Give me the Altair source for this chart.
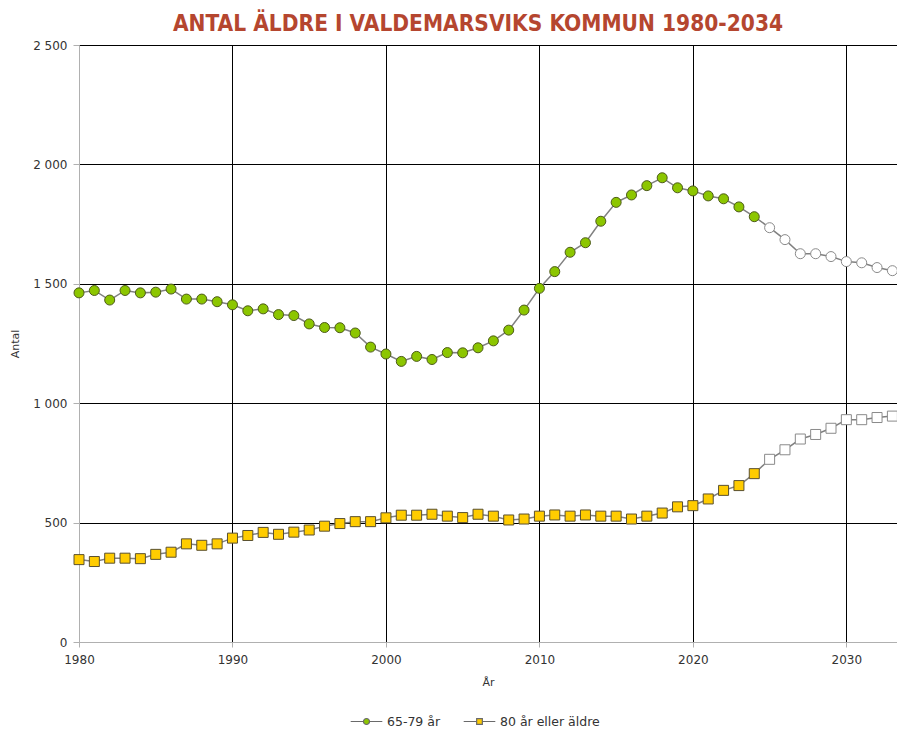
import altair as alt
import pandas as pd

years = list(range(1980, 2034))
age_65_79 = [1462, 1472, 1432, 1472, 1462, 1465, 1478, 1436, 1436, 1425,
             1412, 1387, 1395, 1371, 1367, 1332, 1317, 1316, 1294, 1235,
             1206, 1175, 1196, 1183, 1212, 1211, 1232, 1261, 1306, 1390,
             1481, 1551, 1632, 1672, 1762, 1841, 1872, 1911, 1944, 1902,
             1889, 1868, 1856, 1822, 1781, 1735, 1685, 1626, 1626, 1614,
             1593, 1588, 1568, 1555]
age_80_plus = [345, 337, 351, 351, 349, 367, 376, 411, 405, 411,
               435, 446, 459, 451, 460, 469, 485, 496, 504, 504,
               520, 531, 531, 535, 527, 521, 535, 527, 511, 515,
               527, 532, 527, 532, 527, 527, 515, 527, 540, 566,
               571, 599, 635, 655, 705, 765, 805, 850, 869, 895,
               931, 931, 940, 946]
series_names = ["65-79 år", "80 år eller äldre"]
x_ticks = [1980, 1990, 2000, 2010, 2020, 2030]
y_ticks = [0, 500, 1000, 1500, 2000, 2500]
first_projected_year = 2025

rows = []
for name, vals in zip(series_names, [age_65_79, age_80_plus]):
    for yr, v in zip(years, vals):
        rows.append({"År": yr, "Antal": v, "serie": name})
df = pd.DataFrame(rows)

GREEN = "#8CC600"
YELLOW = "#FFCC00"
LINE = "#808080"
LABEL_FONT = "DejaVu Sans"

x_enc = alt.X(
    "År:Q",
    scale=alt.Scale(domain=[1980, 2033.3], nice=False, zero=False),
    axis=alt.Axis(
        values=x_ticks, format="d", title="År",
        grid=True, labelFlush=False,
        gridColor={"condition": {"test": "datum.value === 1980", "value": "#b0b0b0"}, "value": "black"},
        gridWidth=1,
        domainColor="#b0b0b0", tickColor="#b0b0b0", tickSize=5,
        labelFont=LABEL_FONT, labelFontSize=12, labelColor="#333333", labelPadding=7,
        titleFont=LABEL_FONT, titleFontSize=11, titleFontWeight="normal", titleColor="#333333",
        titlePadding=11,
    ),
)
y_enc = alt.Y(
    "Antal:Q",
    scale=alt.Scale(domain=[0, 2500], nice=False),
    axis=alt.Axis(
        values=y_ticks, title="Antal", labelFlush=False,
        labelExpr="replace(format(datum.value, ','), ',', ' ')",
        grid=True,
        gridColor={"condition": {"test": "datum.value === 0", "value": "#b0b0b0"}, "value": "black"},
        gridWidth=1,
        domainColor="#b0b0b0", tickColor="#b0b0b0", tickSize=6,
        labelFont=LABEL_FONT, labelFontSize=12, labelColor="#333333", labelPadding=6,
        titleFont=LABEL_FONT, titleFontSize=11, titleFontWeight="normal", titleColor="#333333",
        titlePadding=12,
    ),
)

base = alt.Chart(df)

lines = base.mark_line(color=LINE, strokeWidth=1.5).encode(x=x_enc, y=y_enc, detail="serie:N")

proj_test = f"datum['År'] >= {first_projected_year}"

green_pts = base.transform_filter(alt.datum.serie == series_names[0]).mark_point(
    shape="circle", filled=True, size=100, strokeWidth=1, opacity=1
).encode(
    x=x_enc, y=y_enc,
    fill=alt.condition(proj_test, alt.value("white"), alt.value(GREEN)),
    stroke=alt.condition(proj_test, alt.value("#8a8a8a"), alt.value("#4d5a1a")),
)

yellow_pts = base.transform_filter(alt.datum.serie == series_names[1]).mark_point(
    shape="square", filled=True, size=100, strokeWidth=1, opacity=1
).encode(
    x=x_enc, y=y_enc,
    fill=alt.condition(proj_test, alt.value("white"), alt.value(YELLOW)),
    stroke=alt.condition(proj_test, alt.value("#8a8a8a"), alt.value("#5a5030")),
)

circ_path = "M-1,0L-0.19,0M0.19,0L1,0M0.19,0A0.19,0.19,0,1,1,-0.19,0A0.19,0.19,0,1,1,0.19,0Z"
sq_path = "M-1,0L-0.18,0M0.18,0L1,0M-0.18,-0.18L0.18,-0.18L0.18,0.18L-0.18,0.18Z"

legend = alt.Legend(
    orient="none", legendX=271, legendY=660, direction="horizontal", title=None,
    symbolSize=1000, symbolStrokeWidth=1.2, symbolOpacity=1,
    labelFont=LABEL_FONT, labelFontSize=12.5, labelColor="#333333", columnPadding=20,
    labelOffset=4,
)

legend_layer = base.mark_point(opacity=0, filled=True, strokeWidth=1.2).encode(
    x=x_enc, y=y_enc,
    shape=alt.Shape("serie:N", scale=alt.Scale(domain=series_names, range=[circ_path, sq_path]), legend=legend),
    fill=alt.Fill("serie:N", scale=alt.Scale(domain=series_names, range=[GREEN, YELLOW]), legend=legend),
    stroke=alt.Stroke("serie:N", scale=alt.Scale(domain=series_names, range=["#6a6a6a", "#6a6a6b"]), legend=legend),
)

chart = alt.layer(lines, green_pts, yellow_pts, legend_layer).properties(
    width=818, height=597,
    autosize=alt.AutoSizeParams(type="none"),
    padding={"left": 71, "top": 37, "right": 0, "bottom": 88},
    title=alt.TitleParams(
        "ANTAL ÄLDRE I VALDEMARSVIKS KOMMUN 1980-2034",
        font="DejaVu Sans Condensed",
        fontSize=22.5, fontWeight="bold", color="#B5462F",
        anchor="middle", offset=4, dx=-10,
    ),
).configure_view(stroke=None).configure(background="white")

chart.save("out.html", embed_options={"renderer": "svg", "actions": False})
